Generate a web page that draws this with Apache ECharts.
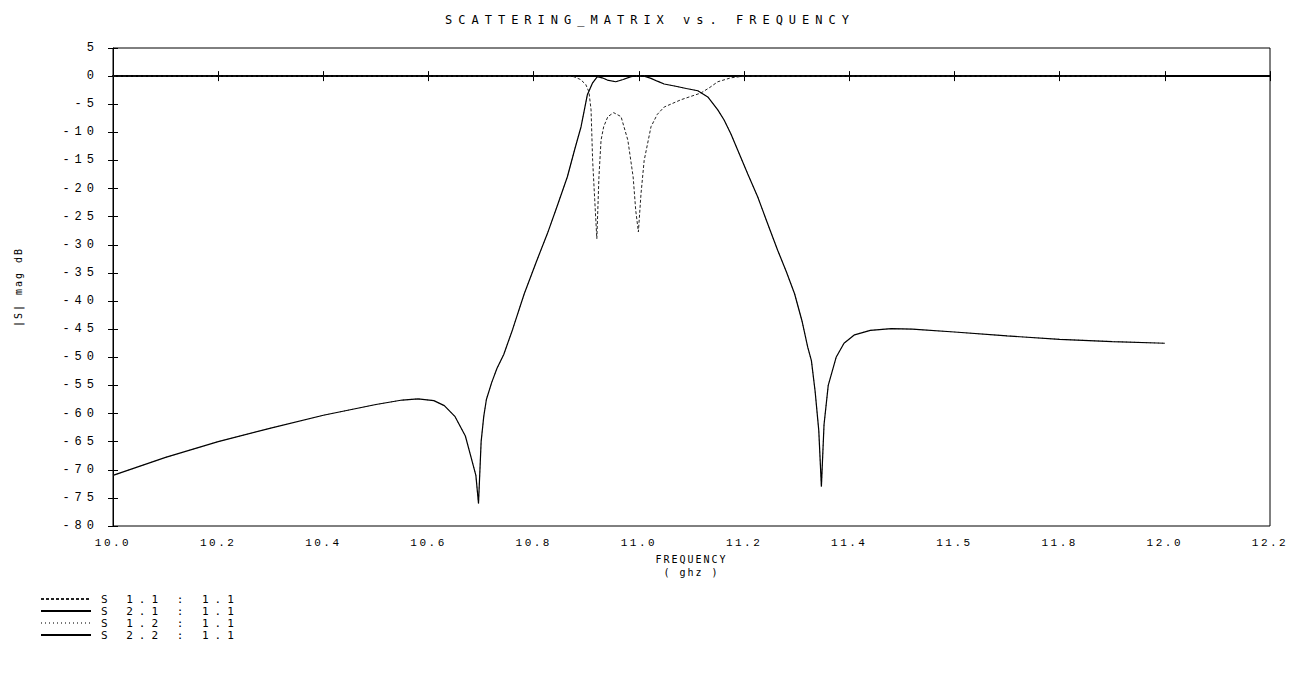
<!DOCTYPE html>
<html lang="en">
<head>
<meta charset="utf-8">
<style>
    html, body { margin: 0; height: 100%; background: #fff; }
    #chart { width: 1300px; height: 686px; }
    /* wide plotter lettering, svg renderer keeps text as <text> */
    #chart text[style*="DejaVu"][style*="12px"] { letter-spacing: 6px; }
    #chart text[style*="DejaVu"][style*="11px"] { letter-spacing: 6px; }
    #chart text[style*="DejaVu"][style*="10px"] { letter-spacing: 2px; }
    #chart text[style*="Liberation"][style*="11px"] { letter-spacing: 2.5px; }
    #chart text[style*="Liberation"][style*="12px"] { letter-spacing: 5px; }
</style>
</head>
<body>
<div id="chart"></div>
<script src="https://cdn.jsdelivr.net/npm/echarts@6/dist/echarts.min.js"></script>
<script>
// tick labels as printed on the plot
var xTickLabels = ['10.0', '10.2', '10.4', '10.6', '10.8', '11.0', '11.2', '11.4', '11.5', '11.8', '12.0', '12.2'];
var seriesNames = ['S 1.1 : 1.1', 'S 2.1 : 1.1', 'S 1.2 : 1.1', 'S 2.2 : 1.1'];

// S11 (return loss, two notches in the passband)
var s11Freq = [10.0, 10.5, 10.85, 10.876, 10.889, 10.899, 10.905, 10.909, 10.912, 10.916, 10.92, 10.924, 10.928, 10.933, 10.941, 10.952, 10.966, 10.979, 10.989, 10.994, 10.999, 11.004, 11.01, 11.023, 11.035, 11.048, 11.08, 11.118, 11.135, 11.15, 11.175, 11.2, 11.5, 12.0];
var s11Db = [0, 0, 0, -0.1, -0.6, -1.5, -2.8, -6, -15, -22, -28.9, -17.9, -11.4, -9, -7.2, -6.5, -7.2, -11.4, -17.9, -23.9, -27.7, -20.9, -15, -9, -6.8, -5.5, -4.2, -3.0, -2.0, -1.0, -0.3, 0, 0, 0];

// S21 (transmission)
var s21Freq = [10.0, 10.1, 10.2, 10.3, 10.4, 10.5, 10.55, 10.58, 10.61, 10.63, 10.65, 10.67, 10.68, 10.69, 10.695, 10.70, 10.705, 10.71, 10.72, 10.73, 10.743, 10.76, 10.782, 10.805, 10.826, 10.845, 10.864, 10.878, 10.89, 10.902, 10.912, 10.921, 10.93, 10.94, 10.956, 10.97, 10.985, 10.998, 11.01, 11.023, 11.035, 11.048, 11.07, 11.09, 11.112, 11.131, 11.15, 11.162, 11.175, 11.188, 11.207, 11.226, 11.245, 11.264, 11.28, 11.296, 11.31, 11.321, 11.328, 11.335, 11.342, 11.347, 11.352, 11.36, 11.375, 11.39, 11.41, 11.44, 11.48, 11.52, 11.6, 11.7, 11.8, 11.9, 12.0];
var s21Db = [-71, -67.8, -65, -62.6, -60.3, -58.4, -57.6, -57.4, -57.7, -58.6, -60.5, -64, -67.5, -71, -76, -65, -60.5, -57.5, -54.5, -52, -49.5, -45, -38.7, -33, -28, -23, -17.9, -13, -9, -3.3, -1.2, -0.1, -0.3, -0.7, -1.0, -0.6, -0.1, 0.1, 0, -0.4, -0.9, -1.4, -1.8, -2.2, -2.6, -3.7, -6.0, -7.8, -10.3, -13.2, -17.4, -21.5, -26.3, -31, -34.7, -38.7, -43.5, -48.2, -50.6, -56, -63, -73, -62, -55, -50, -47.5, -46, -45.2, -44.9, -45, -45.5, -46.2, -46.8, -47.2, -47.5];

// S12 is the same trace as S21 (reciprocal network)
var s12Freq = s21Freq.slice();
var s12Db = s21Db.slice();

// S22, only visible on the flat 0 dB parts
var s22Freq = [10.0, 10.5, 10.87, 11.03, 11.2, 11.6, 12.0];
var s22Db = [0, 0, 0, null, 0, 0, 0];

function pairs(fx, fy) {
    return fx.map(function (f, i) { return [f, fy[i] === null ? '-' : fy[i]]; });
}

var chart = echarts.init(document.getElementById('chart'), null, { renderer: 'svg' });

var xBase = {
    type: 'value', min: 10, max: 12.2, interval: 0.2,
    splitLine: { show: false }
};
var yBase = {
    type: 'value', min: -80, max: 5, interval: 5,
    splitLine: { show: false }
};

var option = {
    animation: false,
    backgroundColor: '#fff',
    title: {
        text: 'SCATTERING_MATRIX vs. FREQUENCY',
        left: 'center',
        top: 9,
        textStyle: { fontFamily: 'DejaVu Sans Mono', fontSize: 12, fontWeight: 'normal', color: '#000' }
    },
    legend: {
        orient: 'vertical',
        left: 40,
        top: 593,
        padding: 0,
        itemWidth: 50,
        itemHeight: 10,
        itemGap: 0,
        data: seriesNames,
        itemStyle: { opacity: 0 },
        textStyle: { fontFamily: 'DejaVu Sans Mono', fontSize: 11, lineHeight: 12, color: '#000', padding: [0, 0, 0, 5] }
    },
    grid: {
        left: 113, right: 30, top: 48, bottom: 160,
        show: true, borderColor: '#000', borderWidth: 1
    },
    xAxis: [
        Object.assign({}, xBase, {
            name: 'FREQUENCY\n( ghz )',
            nameLocation: 'middle',
            nameGap: 20,
            nameTextStyle: { fontFamily: 'DejaVu Sans Mono', fontSize: 10, lineHeight: 13, color: '#000' },
            axisLine: { lineStyle: { color: '#000', width: 2 } },
            axisTick: { length: 5, lineStyle: { color: '#000' } },
            axisLabel: {
                fontFamily: 'Liberation Mono', fontSize: 11, color: '#000', margin: 11,
                formatter: function (v) { return xTickLabels[Math.round((v - 10) / 0.2)]; }
            }
        }),
        Object.assign({}, xBase, {
            position: 'bottom',
            axisLine: { show: false },
            axisTick: { inside: true, length: 5, lineStyle: { color: '#000' } },
            axisLabel: { show: false }
        })
    ],
    yAxis: [
        Object.assign({}, yBase, {
            name: '|S| mag dB',
            nameLocation: 'middle',
            nameGap: 90,
            nameTextStyle: { fontFamily: 'DejaVu Sans Mono', fontSize: 10, color: '#000' },
            axisLine: { lineStyle: { color: '#000', width: 1 } },
            axisTick: { length: 5, lineStyle: { color: '#000' } },
            axisLabel: { fontFamily: 'Liberation Mono', fontSize: 12, color: '#000', margin: 14 }
        }),
        Object.assign({}, yBase, {
            position: 'left',
            axisLine: { show: false },
            axisTick: { inside: true, length: 5, lineStyle: { color: '#000' } },
            axisLabel: { show: false }
        })
    ],
    series: [
        {
            name: seriesNames[2], type: 'line', symbol: 'none', z: 1,
            data: pairs(s12Freq, s12Db),
            itemStyle: { color: '#777' },
            lineStyle: { color: '#777', width: 1, type: [1, 3] }
        },
        {
            name: seriesNames[3], type: 'line', symbol: 'none', z: 2,
            data: pairs(s22Freq, s22Db),
            itemStyle: { color: '#000' },
            lineStyle: { color: '#000', width: 1.6 }
        },
        {
            name: seriesNames[1], type: 'line', symbol: 'none', z: 3,
            data: pairs(s21Freq, s21Db),
            itemStyle: { color: '#000' },
            lineStyle: { color: '#000', width: 1.2 }
        },
        {
            name: seriesNames[0], type: 'line', symbol: 'none', z: 4,
            data: pairs(s11Freq, s11Db),
            itemStyle: { color: '#222' },
            lineStyle: { color: '#222', width: 1, type: [3, 2] }
        }
    ]
};

chart.setOption(option);
window.addEventListener('resize', chart.resize);
</script>
</body>
</html>
